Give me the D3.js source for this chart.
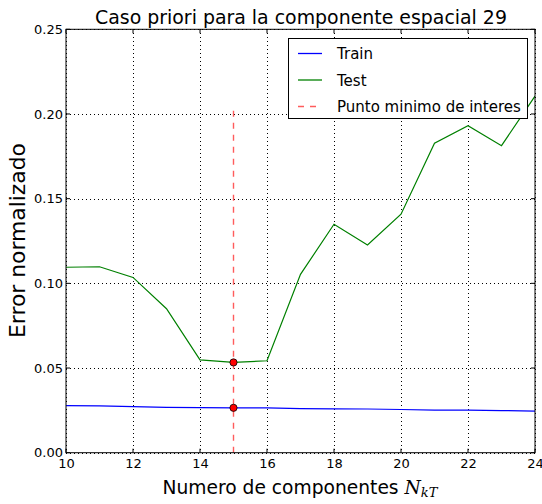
<!DOCTYPE html>
<html>
<head>
<meta charset="utf-8">
<script src="https://cdn.jsdelivr.net/npm/d3@7"></script>
<style>
  html, body { margin: 0; padding: 0; background: #fff; }
  svg { display: block; font-family: "DejaVu Sans", sans-serif; }
</style>
</head>
<body>
<svg id="chart" width="542" height="504"></svg>
<script>
// Number of components on the x axis
const components = [10, 11, 12, 13, 14, 15, 16, 17, 18, 19, 20, 21, 22, 23, 24];
// Normalized error, training set
const trainError = [0.0278, 0.0277, 0.0272, 0.0268, 0.0266, 0.0265, 0.0265, 0.0260, 0.0259, 0.0258, 0.0255, 0.0251, 0.0251, 0.0249, 0.0246];
// Normalized error, test set
const testError = [0.1095, 0.1098, 0.1035, 0.0850, 0.0548, 0.0533, 0.0543, 0.1053, 0.1349, 0.1226, 0.1408, 0.1827, 0.1931, 0.1813, 0.2105];
// Selected point of interest
const minComponent = 15;
const minLineTop = 0.205;
const xTicks = [10, 12, 14, 16, 18, 20, 22, 24];
const yTicks = [0.00, 0.05, 0.10, 0.15, 0.20, 0.25];

const svg = d3.select("#chart");
const L = 66, R = 535, T = 29.3, B = 452.7;

const x = d3.scaleLinear().domain([10, 24]).range([L, R]);
const y = d3.scaleLinear().domain([0, 0.25]).range([B, T]);

// scale a text's font size so that it spans the given length
function fitText(sel, length, baseSize) {
  const w = sel.node().getComputedTextLength();
  const size = baseSize * length / w;
  sel.attr("font-size", size);
  sel.selectAll("tspan.sub").attr("font-size", size * 0.7);
  return size;
}

// dotted grid
const grid = svg.append("g").attr("stroke", "#000").attr("stroke-width", 1)
  .attr("stroke-dasharray", "1,3").attr("shape-rendering", "crispEdges");
xTicks.forEach(t => grid.append("line").attr("x1", Math.round(x(t)) + 0.5).attr("x2", Math.round(x(t)) + 0.5).attr("y1", T).attr("y2", B));
yTicks.forEach(t => grid.append("line").attr("y1", Math.round(y(t)) + 0.5).attr("y2", Math.round(y(t)) + 0.5).attr("x1", L).attr("x2", R));

const line = d3.line().x((d, i) => x(components[i])).y(d => y(d));

svg.append("clipPath").attr("id", "plotclip").append("rect")
  .attr("x", L).attr("y", T).attr("width", R - L).attr("height", B - T);

const plot = svg.append("g").attr("clip-path", "url(#plotclip)");

plot.append("path").datum(trainError).attr("d", line)
  .attr("fill", "none").attr("stroke", "#0000ff").attr("stroke-width", 1.2);
plot.append("path").datum(testError).attr("d", line)
  .attr("fill", "none").attr("stroke", "#008000").attr("stroke-width", 1.2);

// vertical marker at the chosen number of components
plot.append("line")
  .attr("x1", x(minComponent)).attr("x2", x(minComponent))
  .attr("y1", y(0)).attr("y2", y(minLineTop))
  .attr("stroke", "#ff3333").attr("stroke-opacity", 0.8).attr("stroke-width", 1.4)
  .attr("stroke-dasharray", "6,6");

const idx = components.indexOf(minComponent);
[testError[idx], trainError[idx]].forEach(v => {
  plot.append("circle").attr("cx", x(minComponent)).attr("cy", y(v)).attr("r", 3.6)
    .attr("fill", "#ff0000").attr("stroke", "#000").attr("stroke-width", 0.8);
});

// frame
svg.append("rect").attr("x", L).attr("y", T).attr("width", R - L).attr("height", B - T)
  .attr("fill", "none").attr("stroke", "#000").attr("stroke-width", 1);

// inward ticks on all four sides
const ticks = svg.append("g").attr("stroke", "#000").attr("stroke-width", 1);
xTicks.forEach(t => {
  ticks.append("line").attr("x1", x(t)).attr("x2", x(t)).attr("y1", B).attr("y2", B - 4);
  ticks.append("line").attr("x1", x(t)).attr("x2", x(t)).attr("y1", T).attr("y2", T + 4);
});
yTicks.forEach(t => {
  ticks.append("line").attr("y1", y(t)).attr("y2", y(t)).attr("x1", L).attr("x2", L + 4);
  ticks.append("line").attr("y1", y(t)).attr("y2", y(t)).attr("x1", R).attr("x2", R - 4);
});

// tick labels
const xl = d3.axisBottom(x).tickValues(xTicks).tickFormat(d3.format("d")).tickSize(0).tickPadding(0);
const xg = svg.append("g").attr("transform", `translate(0,${B})`).call(xl);
xg.select(".domain").remove();
xg.selectAll("text").attr("font-size", 13).attr("font-family", "DejaVu Sans").attr("fill", "#000")
  .attr("dy", "1.05em").attr("y", 2);

const yl = d3.axisLeft(y).tickValues(yTicks).tickFormat(d3.format(".2f")).tickSize(0).tickPadding(0);
const yg = svg.append("g").attr("transform", `translate(${L - 3},0)`).call(yl);
yg.select(".domain").remove();
yg.selectAll("text").attr("font-size", 13).attr("font-family", "DejaVu Sans").attr("fill", "#000");

// title and axis titles
const title = svg.append("text").attr("x", 301).attr("y", 24).attr("text-anchor", "middle")
  .attr("font-size", 18).text("Caso priori para la componente espacial 29");
fitText(title, 412, 18);

const xt = svg.append("text").attr("x", 300).attr("y", 494).attr("text-anchor", "middle")
  .attr("font-size", 18);
xt.append("tspan").text("Numero de componentes ");
xt.append("tspan").attr("font-family", "DejaVu Serif").attr("font-style", "italic").text("N");
xt.append("tspan").attr("class", "sub").attr("font-family", "DejaVu Serif").attr("font-style", "italic")
  .attr("font-size", 12.6).attr("dy", 3).text("kT");
fitText(xt, 275, 18);

const yt = svg.append("text").attr("transform", `translate(25,240.5) rotate(-90)`)
  .attr("text-anchor", "middle").attr("font-size", 18).text("Error normalizado");
fitText(yt, 195, 18);

// legend
const legend = svg.append("g");
legend.append("rect").attr("x", 288.5).attr("y", 38.5).attr("width", 239).attr("height", 80)
  .attr("fill", "#fff").attr("stroke", "#000").attr("stroke-width", 1);
const items = [
  { label: "Train", color: "#0000ff", dash: null, op: 1 },
  { label: "Test", color: "#008000", dash: null, op: 1 },
  { label: "Punto minimo de interes", color: "#ff3333", dash: "6,6", op: 0.8 }
];
items.forEach((it, i) => {
  const cy = 53.5 + i * 26.5;
  const l = legend.append("line").attr("x1", 298).attr("x2", 322).attr("y1", cy).attr("y2", cy)
    .attr("stroke", it.color).attr("stroke-opacity", it.op).attr("stroke-width", 1.3);
  if (it.dash) l.attr("stroke-dasharray", it.dash);
  const tx = legend.append("text").attr("x", 337).attr("y", cy + 5.5).attr("font-size", 15).text(it.label);
  if (i === 2) fitText(tx, 184, 15);
});
</script>
</body>
</html>
